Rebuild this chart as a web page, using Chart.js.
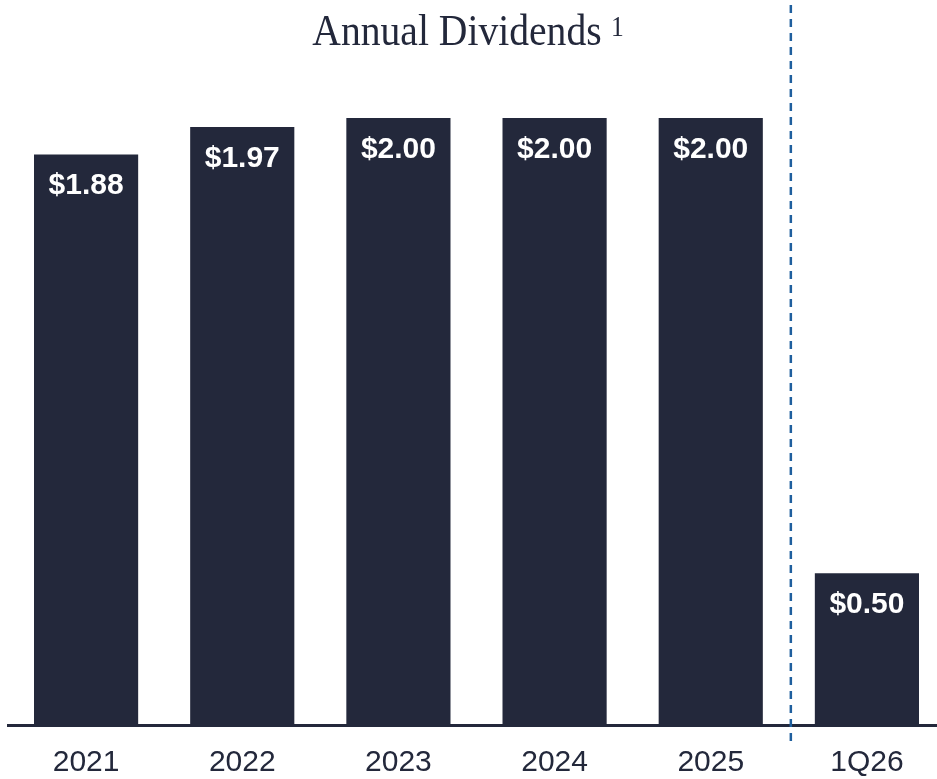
<!DOCTYPE html>
<html>
<head>
<meta charset="utf-8">
<script src="https://cdn.jsdelivr.net/npm/chart.js@4/dist/chart.umd.min.js"></script>
<style>
  html, body { margin: 0; padding: 0; background: #fff; overflow: hidden; }
  #wrap { position: absolute; left: 0; top: 0; width: 945px; height: 779px; }
</style>
</head>
<body>
<div id="wrap"><canvas id="divChart"></canvas></div>
<script>
// data
var years = ["2021", "2022", "2023", "2024", "2025", "1Q26"];
var dividends = [1.88, 1.97, 2.00, 2.00, 2.00, 0.50];
var valueLabels = ["$1.88", "$1.97", "$2.00", "$2.00", "$2.00", "$0.50"];
var chartTitle = "Annual Dividends";
var titleNote = "1";

var navy = "#23283b";

// title with a superscript footnote mark
var titleText = {
    id: "titleText",
    afterDraw: function(chart) {
        var ctx = chart.ctx;
        ctx.save();
        ctx.fillStyle = navy;
        ctx.textBaseline = "alphabetic";
        ctx.font = "45px 'Liberation Serif', 'DejaVu Serif', serif";
        ctx.textAlign = "center";
        ctx.translate(457, 45);
        ctx.scale(0.88, 1);
        ctx.fillText(chartTitle, 0, 0);
        ctx.restore();

        ctx.save();
        ctx.fillStyle = navy;
        ctx.font = "29px 'Liberation Serif', 'DejaVu Serif', serif";
        ctx.textAlign = "left";
        ctx.translate(611, 36);
        ctx.scale(0.88, 1);
        ctx.fillText(titleNote, 0, 0);
        ctx.restore();
    }
};

// white value label near the top of each bar
var barLabels = {
    id: "barLabels",
    afterDatasetsDraw: function(chart) {
        var ctx = chart.ctx;
        var meta = chart.getDatasetMeta(0);
        ctx.save();
        ctx.fillStyle = "#ffffff";
        ctx.font = "bold 30px 'Liberation Sans', Arial, sans-serif";
        ctx.textAlign = "center";
        ctx.textBaseline = "alphabetic";
        meta.data.forEach(function(bar, i) {
            ctx.fillText(valueLabels[i], bar.x, bar.y + 40);
        });
        ctx.restore();
    }
};

// dashed separator between the full years and the quarter
var separator = {
    id: "separator",
    afterDraw: function(chart) {
        var ctx = chart.ctx;
        var xs = chart.scales.x;
        var x = (xs.getPixelForValue(4) + xs.getPixelForValue(5)) / 2 + 2;
        ctx.save();
        ctx.strokeStyle = "#1f5f9e";
        ctx.lineWidth = 2.5;
        ctx.setLineDash([8, 6]);
        ctx.beginPath();
        ctx.moveTo(x, 5);
        ctx.lineTo(x, 742);
        ctx.stroke();
        ctx.restore();
    }
};

var chart = new Chart(document.getElementById("divChart"), {
    type: "bar",
    data: {
        labels: years,
        datasets: [{
            data: dividends,
            backgroundColor: navy,
            borderWidth: 0,
            barPercentage: 0.667,
            categoryPercentage: 1.0
        }]
    },
    options: {
        responsive: true,
        maintainAspectRatio: false,
        animation: false,
        layout: { padding: { left: 8, right: 0, top: 118, bottom: 0 } },
        plugins: {
            legend: { display: false },
            tooltip: { enabled: false },
            title: { display: false }
        },
        scales: {
            x: {
                grid: { display: false },
                border: { display: true, color: navy, width: 3 },
                ticks: {
                    color: navy,
                    padding: 12,
                    font: { family: "'Liberation Sans', Arial, sans-serif", size: 30 }
                },
                afterFit: function(scale) {
                    scale.height = 54;
                }
            },
            y: {
                display: false,
                min: 0,
                max: 2.0
            }
        }
    },
    plugins: [barLabels, separator, titleText]
});
</script>
</body>
</html>
